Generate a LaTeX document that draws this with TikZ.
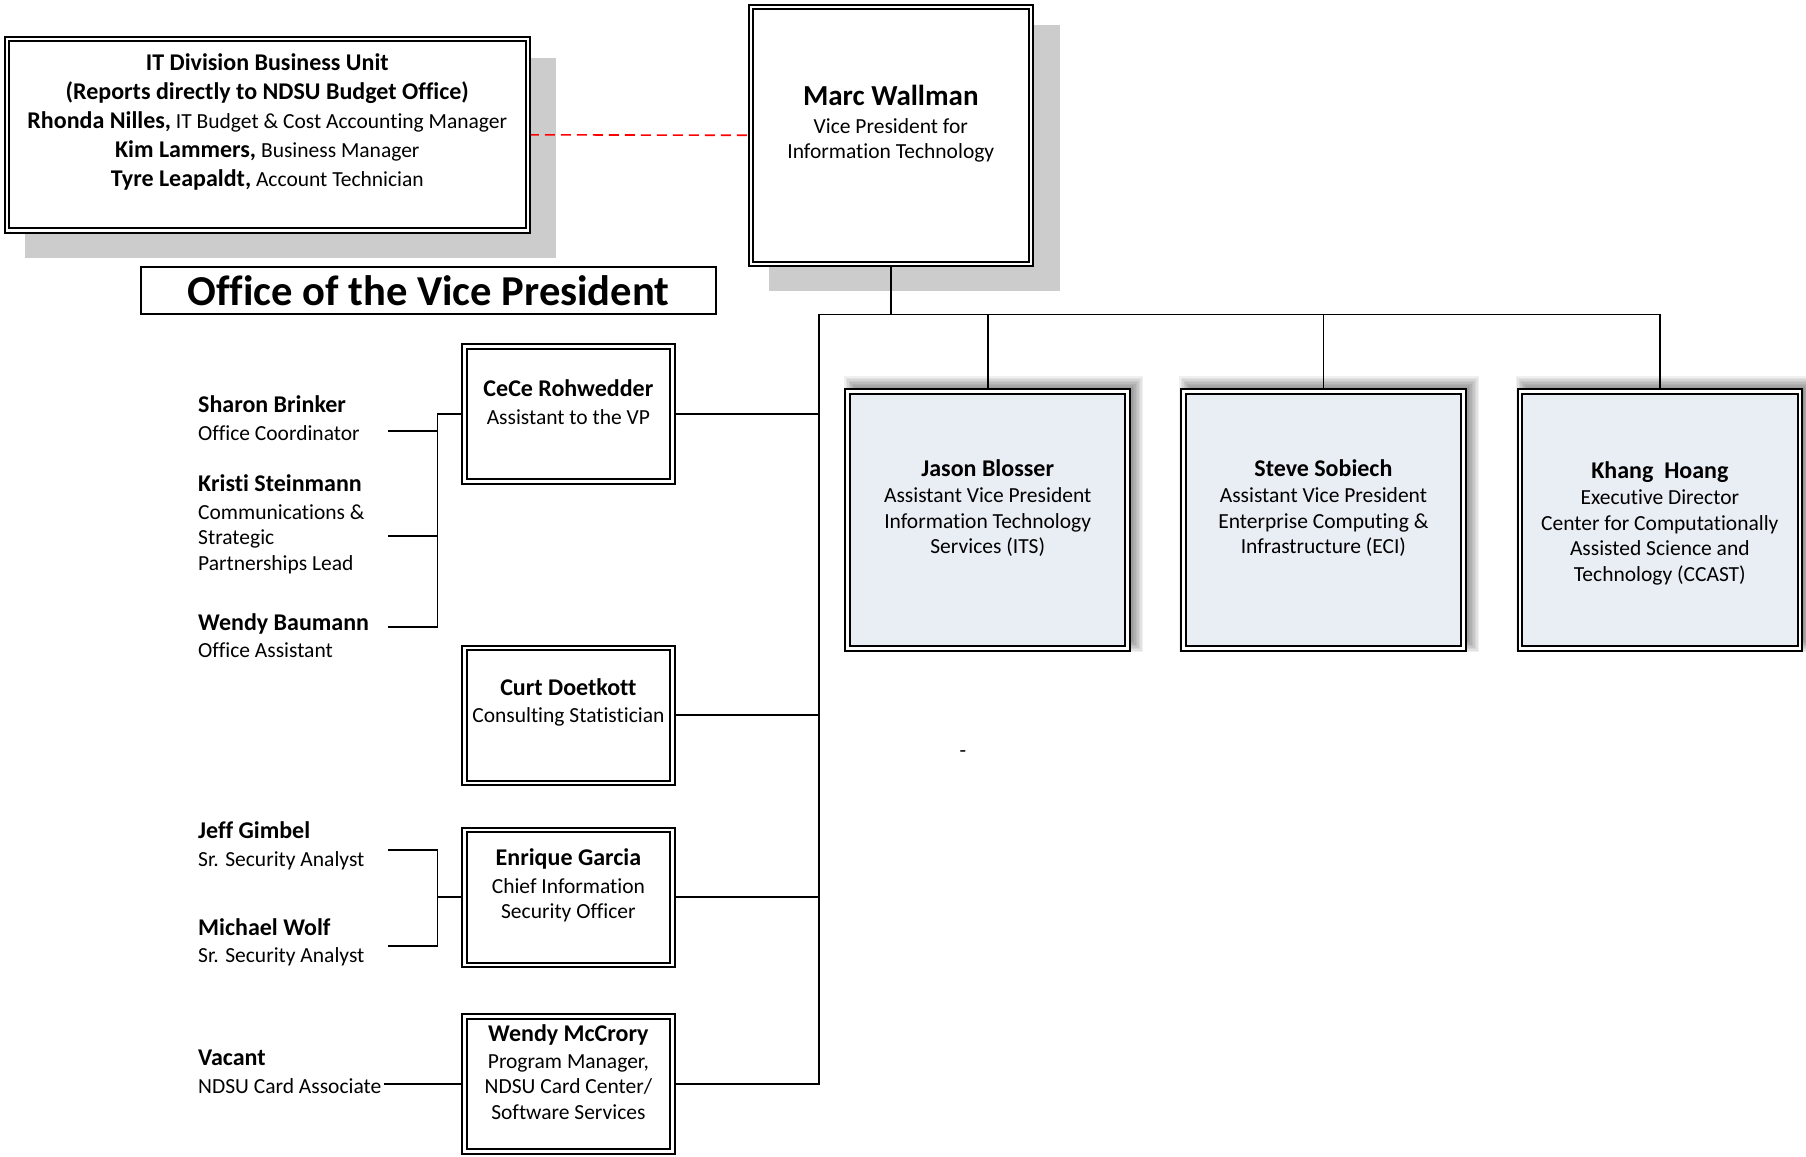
\documentclass[tikz,border=0pt]{standalone}
\usepackage{fontspec}
\setmainfont{Carlito}[Ligatures=CommonOff]
\pgfdeclarelayer{shadowlayer}
\pgfdeclarelayer{linelayer}
\pgfsetlayers{shadowlayer,linelayer,main}
\definecolor{boxblue}{RGB}{233,237,244}
\definecolor{shadowgray}{RGB}{204,204,204}
\newcommand\nmf{\fontsize{24}{28}\selectfont\bfseries}
\newcommand\rgf{\fontsize{21.5}{25.5}\selectfont}
\begin{document}
\begin{tikzpicture}[x=1pt,y=-1pt,
  dbox/.style={draw, double, double distance=2.5pt, line width=2pt, inner sep=0pt, fill=white},
  bigbox/.style={dbox, minimum width=280pt, minimum height=257pt},
  smallbox/.style={dbox, minimum width=208pt, minimum height=135pt},
  bluebox/.style={bigbox, fill=boxblue},
  txt/.style={align=center, inner sep=0pt, font=\rgf},
  stf/.style={align=left, inner sep=0pt, font=\rgf, anchor=west},
  conn/.style={line width=1.8pt},
  reddash/.style={red, line width=1.6pt, dash pattern=on 10pt off 6pt}
]
\useasboundingbox (0,0) rectangle (1806,1156);

% shadows
\begin{pgfonlayer}{shadowlayer}
\fill[shadowgray] (25.3,57.6) rectangle (556.3,258);
\fill[shadowgray] (769,25) rectangle (1060,291.4);
\foreach \xa/\xb in {844.3/1131,1179.4/1467.4,1515.8/1803.7}{
  \foreach \d in {-6,-4.5,...,6}{
    \fill[black,opacity=0.06] (\xa+6+\d,382+\d) rectangle (\xb+6-\d,646-\d);
  }
}
\end{pgfonlayer}

% boxes
\node[dbox, minimum width=521pt, minimum height=191.5pt] (biz) at (267.3,134.8) {};
\node[txt, font=\fontsize{21.5}{29}\selectfont] (bizt) at (267.3,122) {%
  {\nmf IT Division Business Unit}\\
  {\nmf (Reports directly to NDSU Budget Office)}\\
  {\nmf Rhonda Nilles,} IT Budget \& Cost Accounting Manager\\
  {\nmf Kim Lammers,} Business Manager\\
  {\nmf Tyre Leapaldt,} Account Technician};

\node[draw, line width=1.5pt, minimum width=575pt, minimum height=47pt, inner sep=0pt,
  font=\fontsize{42.6}{48}\selectfont\bfseries] (title) at (428.5,290.7) {Office of the Vice President};

\node[bigbox] (marc) at (890.8,135.3) {};
\node[txt] (marct) at (890.8,124) {{\fontsize{29}{33}\selectfont\bfseries Marc Wallman}\\[2pt]
  Vice President for\\ Information Technology};

\node[bluebox] (jason) at (987.7,520) {};
\node[txt] (jasont) at (987.7,508) {{\nmf Jason Blosser}\\[1pt] Assistant Vice President\\
  Information Technology\\ Services (ITS)};
\node[bluebox] (steve) at (1323.4,520) {};
\node[txt] (stevet) at (1323.4,508) {{\nmf Steve Sobiech}\\[1pt] Assistant Vice President\\
  Enterprise Computing \&\\ Infrastructure (ECI)};
\node[bluebox] (khang) at (1659.8,520) {};
\node[txt] (khangt) at (1659.8,523) {{\nmf Khang\ \ Hoang}\\[1pt] Executive Director\\
  Center for Computationally\\ Assisted Science and\\ Technology (CCAST)};

\node[smallbox] (cece) at (568.4,414) {};
\node[txt] (cecet) at (568.4,402) {{\nmf CeCe Rohwedder}\\[2pt] Assistant to the VP};
\node[smallbox] (curt) at (568.4,715.3) {};
\node[txt] (curtt) at (568.4,702.5) {{\nmf Curt Doetkott}\\[2pt] Consulting Statistician};
\node[smallbox] (enrique) at (568.4,897.3) {};
\node[txt] (enriquet) at (568.4,885.5) {{\nmf Enrique Garcia}\\[2pt] Chief Information\\ Security Officer};
\node[smallbox] (wendym) at (568.4,1083.9) {};
\node[txt] (wendymt) at (568.4,1072) {{\nmf Wendy McCrory}\\[1pt] Program Manager,\\
  NDSU Card Center/\\ Software Services};

% staff
\node[stf] (sharon) at (198,418) {{\nmf Sharon Brinker}\\[2pt] Office Coordinator};
\node[stf] (kristi) at (198,524.5) {{\nmf Kristi Steinmann}\\[2pt] Communications \&\\ Strategic\\ Partnerships Lead};
\node[stf] (wendyb) at (198,635.8) {{\nmf Wendy Baumann}\\[2pt] Office Assistant};
\node[stf] (jeff) at (198,845.8) {{\nmf Jeff Gimbel}\\[2pt] Sr. Security Analyst};
\node[stf] (michael) at (198,942.5) {{\nmf Michael Wolf}\\[2pt] Sr. Security Analyst};
\node[stf] (vacant) at (198,1071.8) {{\nmf Vacant}\\[2pt] NDSU Card Associate};

\node[txt] (dash) at (963,754) {-};

% connectors
\coordinate (busL) at (819,314.4);
\coordinate (ceJ) at (437.5,414);
\coordinate (enJ) at (437.5,897.3);
\coordinate (sharonE) at (388,430.8);
\coordinate (kristiE) at (388,535.6);
\coordinate (wendybE) at (388,626.6);
\coordinate (jeffE) at (388,850);
\coordinate (michaelE) at (388,945.6);
\coordinate (vacE) at (383.5,1083.9);

\begin{pgfonlayer}{linelayer}
\draw[reddash] (biz.east) -- (marc.west);
\draw[conn] (marc.south) -- (marc.south |- busL);
\draw[conn] (busL) -| (khang.north);
\draw[conn] (jason.north) -- (jason.north |- busL);
\draw[conn] (steve.north) -- (steve.north |- busL);
\draw[conn] (busL) |- (wendym.east);
\draw[conn] (cece.east) -- (cece.east -| busL);
\draw[conn] (curt.east) -- (curt.east -| busL);
\draw[conn] (enrique.east) -- (enrique.east -| busL);
\draw[conn] (cece.west) -- (ceJ) |- (wendybE);
\draw[conn] (ceJ) |- (sharonE);
\draw[conn] (ceJ) |- (kristiE);
\draw[conn] (enrique.west) -- (enJ);
\draw[conn] (jeffE) -| (enJ) |- (michaelE);
\draw[conn] (vacE) -- (wendym.west);
\end{pgfonlayer}
\end{tikzpicture}
\end{document}
